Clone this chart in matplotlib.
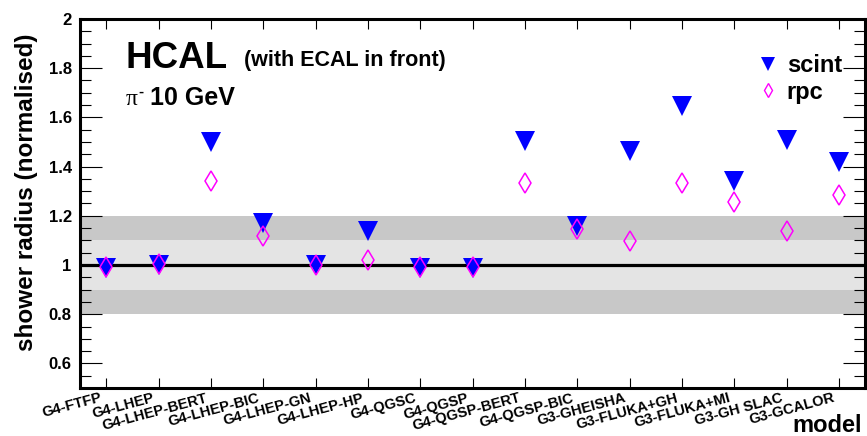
import numpy as np
import matplotlib
matplotlib.use("Agg")
import matplotlib.pyplot as plt
import matplotlib.transforms as mtransforms
from matplotlib.lines import Line2D
from matplotlib.ticker import MultipleLocator, FuncFormatter

plt.rcParams['font.family'] = ['Liberation Sans', 'DejaVu Sans']
plt.rcParams['font.weight'] = 'bold'

# data
models = ['G4-FTFP', 'G4-LHEP', 'G4-LHEP-BERT', 'G4-LHEP-BIC', 'G4-LHEP-GN',
          'G4-LHEP-HP', 'G4-QGSC', 'G4-QGSP', 'G4-QGSP-BERT', 'G4-QGSP-BIC',
          'G3-GHEISHA', 'G3-FLUKA+GH', 'G3-FLUKA+MI', 'G3-GH SLAC', 'G3-GCALOR']
scint = [0.987, 1.000, 1.500, 1.170, 1.000, 1.140, 0.987, 0.987, 1.504, 1.160,
         1.463, 1.646, 1.342, 1.508, 1.419]
rpc = [0.990, 1.003, 1.340, 1.116, 0.999, 1.020, 0.990, 0.990, 1.335, 1.145,
       1.096, 1.335, 1.258, 1.137, 1.283]

W, H = 867, 436
fig = plt.figure(figsize=(W / 100, H / 100), dpi=100)
# axes box in pixels: x 80..865, y 19..388
ax = fig.add_axes([80 / W, (H - 388) / H, 785 / W, 369 / H])

def fx(px):  # pixel -> figure fraction
    return px / W

def fy(py):
    return 1 - py / H

x = np.arange(len(models)) + 0.5

# bands and reference line
ax.axhspan(0.8, 1.2, color='#c8c8c8', lw=0, zorder=0)
ax.axhspan(0.9, 1.1, color='#e4e4e4', lw=0, zorder=0)
ax.axhline(1.0, color='black', lw=2.3, zorder=1)

ax.plot(x, scint, ls='none', marker='v', ms=13.7, color='#0000ff', mew=0, zorder=3)
ax.plot(x, rpc, ls='none', marker='d', ms=10.2, mfc='none', mec='#ff00ff', mew=1.1, zorder=4)

ax.set_xlim(0, len(models))
ax.set_ylim(0.5, 2.0)

# ticks, ROOT style
ax.set_xticks(x)
ax.set_xticklabels([])
ax.tick_params(axis='x', which='both', direction='in', top=True, bottom=True,
               length=7.2, width=0.8)
# category labels: right end just left of the tick, tilted
lab_trans = ax.get_xaxis_transform() + mtransforms.ScaledTranslation(-6 / 100, -3 / 100, fig.dpi_scale_trans)
for xi, name in zip(x, models):
    ax.text(xi, 0, name, transform=lab_trans, fontsize=10.5, fontweight='bold',
            rotation=15, ha='right', va='top', rotation_mode='anchor', clip_on=False)

ax.yaxis.set_major_locator(MultipleLocator(0.2))
ax.yaxis.set_minor_locator(MultipleLocator(0.05))
ax.yaxis.set_major_formatter(FuncFormatter(lambda v, p: '' if v < 0.55 else '%g' % v))
ax.tick_params(axis='y', which='major', direction='in', left=True, right=True,
               length=15.8, width=0.8, labelsize=12, pad=6)
ax.tick_params(axis='y', which='minor', direction='in', left=True, right=True,
               length=7.9, width=0.8)
for lab in ax.get_yticklabels():
    lab.set_fontweight('bold')

for sp in ax.spines.values():
    sp.set_linewidth(2.2)
    sp.set_zorder(5)

# axis titles
fig.text(fx(27), fy(192), 'shower radius (normalised)', rotation=90, fontsize=17.5,
         fontweight='bold', ha='center', va='center')
fig.text(fx(862), fy(432), 'model', fontsize=17, fontweight='bold', ha='right', va='baseline')

# annotations
fig.text(fx(125), fy(68), 'HCAL', fontsize=26.5, fontweight='bold', va='baseline')
fig.text(fx(244), fy(66), '(with ECAL in front)', fontsize=15.5, fontweight='bold', va='baseline')
fig.text(fx(126), fy(105), '\u03c0', fontsize=17, family='Liberation Serif',
         fontweight='normal', va='baseline')
fig.text(fx(138), fy(96), '-', fontsize=11, fontweight='bold', va='baseline')
fig.text(fx(150), fy(105), '10 GeV', fontsize=18, fontweight='bold', va='baseline')

# legend
handles = [Line2D([], [], ls='none', marker='v', ms=9.5, color='#0000ff', mew=0),
           Line2D([], [], ls='none', marker='d', ms=7, mfc='none', mec='#ff00ff', mew=1.0)]
ax.legend(handles, ['scint', 'rpc'], loc='upper left', frameon=False,
          bbox_to_anchor=(fx(756), fy(54)), bbox_transform=fig.transFigure,
          borderpad=0, borderaxespad=0, handlelength=1.0, handletextpad=0.3,
          labelspacing=0.15, prop={'size': 17, 'weight': 'bold'})

fig.savefig('out.png', dpi=100)
